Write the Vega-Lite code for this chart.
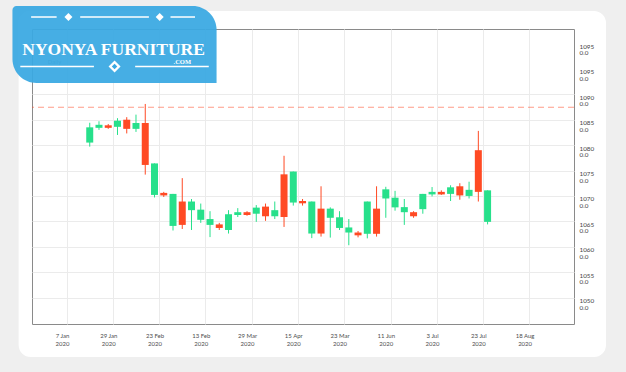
{
  "$schema": "https://vega.github.io/schema/vega-lite/v6.json",
  "width": 542,
  "height": 295,
  "autosize": "none",
  "padding": {"left": 32, "top": 29, "right": 52, "bottom": 48},
  "background": "white",
  "config": {"view": {"stroke": "#8a8a8a", "strokeWidth": 1}, "font": "Lato"},
  "resolve": {"scale": {"x": "shared", "y": "shared"}, "axis": {"x": "independent", "y": "independent"}},
  "data": {"values": [
    {"i": 0, "open": 1080.5, "close": 1083.5, "high": 1084.4, "low": 1079.7},
    {"i": 1, "open": 1083.4, "close": 1084.0, "high": 1084.7, "low": 1083.0},
    {"i": 2, "open": 1083.9, "close": 1083.4, "high": 1084.15, "low": 1083.2},
    {"i": 3, "open": 1083.6, "close": 1084.8, "high": 1085.3, "low": 1082.0},
    {"i": 4, "open": 1085.0, "close": 1083.2, "high": 1085.5, "low": 1082.3},
    {"i": 5, "open": 1083.2, "close": 1084.35, "high": 1086.0, "low": 1082.6},
    {"i": 6, "open": 1084.35, "close": 1076.1, "high": 1088.1, "low": 1074.2},
    {"i": 7, "open": 1070.2, "close": 1076.4, "high": 1076.4, "low": 1069.7},
    {"i": 8, "open": 1070.6, "close": 1070.1, "high": 1070.8, "low": 1069.8},
    {"i": 9, "open": 1064.1, "close": 1070.4, "high": 1070.4, "low": 1063.2},
    {"i": 10, "open": 1068.9, "close": 1064.3, "high": 1073.5, "low": 1063.5},
    {"i": 11, "open": 1067.2, "close": 1068.9, "high": 1069.4, "low": 1063.3},
    {"i": 12, "open": 1065.3, "close": 1067.3, "high": 1068.5, "low": 1064.7},
    {"i": 13, "open": 1064.3, "close": 1065.45, "high": 1067.0, "low": 1061.9},
    {"i": 14, "open": 1064.4, "close": 1063.7, "high": 1064.7, "low": 1063.3},
    {"i": 15, "open": 1063.3, "close": 1066.4, "high": 1067.2, "low": 1062.6},
    {"i": 16, "open": 1066.25, "close": 1066.8, "high": 1067.6, "low": 1065.85},
    {"i": 17, "open": 1066.8, "close": 1066.25, "high": 1067.0, "low": 1066.1},
    {"i": 18, "open": 1066.5, "close": 1067.7, "high": 1068.2, "low": 1064.9},
    {"i": 19, "open": 1067.9, "close": 1066.0, "high": 1068.5, "low": 1065.1},
    {"i": 20, "open": 1066.0, "close": 1067.2, "high": 1068.9, "low": 1065.45},
    {"i": 21, "open": 1074.25, "close": 1065.85, "high": 1077.9, "low": 1063.9},
    {"i": 22, "open": 1068.7, "close": 1074.8, "high": 1074.8, "low": 1068.1},
    {"i": 23, "open": 1069.0, "close": 1068.55, "high": 1069.4, "low": 1068.1},
    {"i": 24, "open": 1062.6, "close": 1068.9, "high": 1068.9, "low": 1061.7},
    {"i": 25, "open": 1067.5, "close": 1062.6, "high": 1071.9, "low": 1062.0},
    {"i": 26, "open": 1065.7, "close": 1067.5, "high": 1067.75, "low": 1061.8},
    {"i": 27, "open": 1063.7, "close": 1065.8, "high": 1067.0, "low": 1063.3},
    {"i": 28, "open": 1062.8, "close": 1063.8, "high": 1065.45, "low": 1060.3},
    {"i": 29, "open": 1062.8, "close": 1062.25, "high": 1063.1, "low": 1061.85},
    {"i": 30, "open": 1062.55, "close": 1068.9, "high": 1068.9, "low": 1061.65},
    {"i": 31, "open": 1067.5, "close": 1062.55, "high": 1071.9, "low": 1062.0},
    {"i": 32, "open": 1069.5, "close": 1071.3, "high": 1071.8, "low": 1065.7},
    {"i": 33, "open": 1067.75, "close": 1069.65, "high": 1071.0, "low": 1067.1},
    {"i": 34, "open": 1066.8, "close": 1067.8, "high": 1069.4, "low": 1064.3},
    {"i": 35, "open": 1066.8, "close": 1066.0, "high": 1067.0, "low": 1065.7},
    {"i": 36, "open": 1067.4, "close": 1070.4, "high": 1070.4, "low": 1066.5},
    {"i": 37, "open": 1070.3, "close": 1070.8, "high": 1071.75, "low": 1069.9},
    {"i": 38, "open": 1070.8, "close": 1070.3, "high": 1071.1, "low": 1070.2},
    {"i": 39, "open": 1070.4, "close": 1071.7, "high": 1072.1, "low": 1069.0},
    {"i": 40, "open": 1071.9, "close": 1070.1, "high": 1072.5, "low": 1069.25},
    {"i": 41, "open": 1070.0, "close": 1071.2, "high": 1072.8, "low": 1069.5},
    {"i": 42, "open": 1079.0, "close": 1070.8, "high": 1082.8, "low": 1068.9},
    {"i": 43, "open": 1064.9, "close": 1071.1, "high": 1071.1, "low": 1064.4}
  ]},
  "layer": [
    {
      "mark": {"type": "rule", "strokeWidth": 1},
      "encoding": {
        "x": {"field": "i", "type": "quantitative",
          "scale": {"domain": [-5.7, 51.8], "nice": false, "zero": false},
          "axis": {
            "values": [-3, 2, 7, 12, 17, 22, 27, 32, 37, 42, 47],
            "labelExpr": "[['7 Jan','29 Jan','23 Feb','13 Feb','29 Mar','15 Apr','23 Mar','11 Jun','3 Jul','23 Jul','18 Aug'][round((datum.value+3)/5)], '2020']",
            "grid": true, "gridColor": "#ebebeb", "gridWidth": 1,
            "tickOffset": 4.71, "labelOffset": -4.71,
            "ticks": false, "domain": false, "title": null,
            "labelFont": "Lato", "labelFontSize": 6, "labelLineHeight": 8,
            "labelPadding": 8, "labelColor": "#4d4d4d",
            "labelFlush": false, "labelOverlap": false, "labelAlign": "center", "labelBaseline": "top"
          }
        },
        "y": {"field": "low", "type": "quantitative",
          "scale": {"domain": [1044.8, 1102.85], "nice": false, "zero": false},
          "axis": {
            "orient": "right",
            "values": [1050, 1055, 1060, 1065, 1070, 1075, 1080, 1085, 1090, 1095, 1100],
            "labelExpr": "[datum.value == 1100 ? '1095' : format(datum.value, 'd'), '0.0']",
            "grid": true, "gridColor": "#ebebeb", "gridWidth": 1,
            "gridOpacity": {"condition": {"test": "datum.value > 1090", "value": 0}, "value": 1},
            "ticks": false, "domain": false, "title": null,
            "labelFont": "Lato", "labelFontSize": 6.3, "labelLineHeight": 6.5,
            "labelPadding": 5, "labelColor": "#444444",
            "labelAlign": "left", "labelBaseline": "top", "labelFlush": false, "labelOverlap": false
          }
        },
        "y2": {"field": "high"},
        "color": {"condition": {"test": "datum.close > datum.open", "value": "#27e08b"}, "value": "#ff4a24"}
      }
    },
    {
      "mark": {"type": "bar", "size": 7},
      "encoding": {
        "x": {"field": "i", "type": "quantitative", "axis": null},
        "y": {"field": "open", "type": "quantitative", "axis": null},
        "y2": {"field": "close"},
        "color": {"condition": {"test": "datum.close > datum.open", "value": "#27e08b"}, "value": "#ff4a24"}
      }
    },
    {
      "data": {"values": [{}]},
      "mark": {"type": "rule", "stroke": "#ff4a24", "opacity": 0.55, "strokeDash": [6, 4], "strokeWidth": 1},
      "encoding": {"y": {"datum": 1087.45, "type": "quantitative", "axis": null}}
    },
    {
      "data": {"values": [{}]},
      "mark": {"type": "text", "text": "Daily", "align": "left", "baseline": "middle", "fontSize": 6, "color": "#666666", "font": "Lato"},
      "encoding": {"x": {"datum": -4.53, "type": "quantitative", "axis": null}, "y": {"datum": 1096.26, "type": "quantitative", "axis": null}}
    },
    {
      "data": {"values": [{}]},
      "mark": {"type": "rect", "fill": "white", "fillOpacity": 0, "stroke": "#efefef", "strokeWidth": 30, "cornerRadius": 27},
      "encoding": {
        "x": {"datum": -9.307, "type": "quantitative", "axis": null}, "x2": {"datum": 57.42},
        "y": {"datum": 1109.35, "type": "quantitative", "axis": null}, "y2": {"datum": 1035.33}
      }
    },
    {
      "data": {"values": [{}]},
      "mark": {"type": "rect", "fill": "#3aa9e2", "opacity": 0.94, "cornerRadiusTopRight": 24, "cornerRadiusBottomLeft": 24, "cornerRadiusTopLeft": 4},
      "encoding": {
        "x": {"datum": -8.352, "type": "quantitative", "axis": null}, "x2": {"datum": 13.71},
        "y": {"datum": 1107.38, "type": "quantitative", "axis": null}, "y2": {"datum": 1092.22}
      }
    },
    {
      "data": {"values": [{}]},
      "mark": {"type": "text", "text": "NYONYA FURNITURE", "align": "center", "baseline": "alphabetic", "fontSize": 17.5, "fontWeight": "bold", "font": "Liberation Serif, serif", "color": "white"},
      "encoding": {"x": {"datum": 2.575, "type": "quantitative", "axis": null}, "y": {"datum": 1097.73, "type": "quantitative", "axis": null}}
    },
    {
      "data": {"values": [{}]},
      "mark": {"type": "text", "text": ".COM", "align": "center", "baseline": "alphabetic", "fontSize": 6.5, "fontWeight": "bold", "font": "Liberation Serif, serif", "color": "white"},
      "encoding": {"x": {"datum": 10.0, "type": "quantitative", "axis": null}, "y": {"datum": 1095.9, "type": "quantitative", "axis": null}}
    },
    {
      "data": {"values": [{}]},
      "mark": {"type": "rule", "stroke": "white", "strokeWidth": 1.5},
      "encoding": {"x": {"datum": -6.337, "type": "quantitative", "axis": null}, "x2": {"datum": -3.578}, "y": {"datum": 1105.21, "type": "quantitative", "axis": null}}
    },
    {
      "data": {"values": [{}]},
      "mark": {"type": "rule", "stroke": "white", "strokeWidth": 1.5},
      "encoding": {"x": {"datum": -1.032, "type": "quantitative", "axis": null}, "x2": {"datum": 6.394}, "y": {"datum": 1105.21, "type": "quantitative", "axis": null}}
    },
    {
      "data": {"values": [{}]},
      "mark": {"type": "rule", "stroke": "white", "strokeWidth": 1.5},
      "encoding": {"x": {"datum": 8.728, "type": "quantitative", "axis": null}, "x2": {"datum": 11.38}, "y": {"datum": 1105.21, "type": "quantitative", "axis": null}}
    },
    {
      "data": {"values": [{}]},
      "mark": {"type": "rule", "stroke": "white", "strokeWidth": 1.5},
      "encoding": {"x": {"datum": -7.504, "type": "quantitative", "axis": null}, "x2": {"datum": 0.453}, "y": {"datum": 1095.47, "type": "quantitative", "axis": null}}
    },
    {
      "data": {"values": [{}]},
      "mark": {"type": "rule", "stroke": "white", "strokeWidth": 1.5},
      "encoding": {"x": {"datum": 4.909, "type": "quantitative", "axis": null}, "x2": {"datum": 12.866}, "y": {"datum": 1095.47, "type": "quantitative", "axis": null}}
    },
    {
      "data": {"values": [{}]},
      "mark": {"type": "point", "shape": "diamond", "filled": true, "fill": "white", "opacity": 1, "size": 64, "strokeWidth": 0},
      "encoding": {"x": {"datum": -2.305, "type": "quantitative", "axis": null}, "y": {"datum": 1105.21, "type": "quantitative", "axis": null}}
    },
    {
      "data": {"values": [{}]},
      "mark": {"type": "point", "shape": "diamond", "filled": true, "fill": "white", "opacity": 1, "size": 64, "strokeWidth": 0},
      "encoding": {"x": {"datum": 7.561, "type": "quantitative", "axis": null}, "y": {"datum": 1105.21, "type": "quantitative", "axis": null}}
    },
    {
      "data": {"values": [{}]},
      "mark": {"type": "point", "shape": "diamond", "filled": true, "fill": "white", "opacity": 1, "size": 144, "strokeWidth": 0},
      "encoding": {"x": {"datum": 2.681, "type": "quantitative", "axis": null}, "y": {"datum": 1095.47, "type": "quantitative", "axis": null}}
    },
    {
      "data": {"values": [{}]},
      "mark": {"type": "point", "shape": "diamond", "filled": true, "fill": "#3aa9e2", "opacity": 1, "size": 30, "strokeWidth": 0},
      "encoding": {"x": {"datum": 2.681, "type": "quantitative", "axis": null}, "y": {"datum": 1095.47, "type": "quantitative", "axis": null}}
    }
  ]
}
